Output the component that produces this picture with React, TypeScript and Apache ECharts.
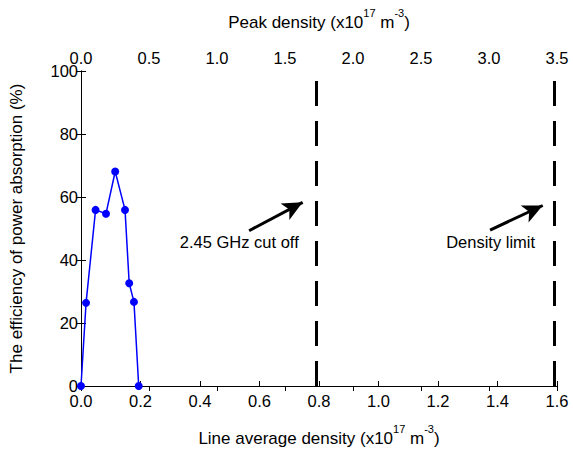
import React, { useEffect, useRef } from "react";
import * as echarts from "echarts";

const lineDensity = [0.0, 0.017, 0.049, 0.084, 0.115, 0.148, 0.162, 0.178, 0.194];
const efficiency = [0, 26.4, 55.9, 54.7, 68.1, 55.9, 32.6, 26.7, 0];
const bottomTicks = [0, 1.6, 0.2];
const topTicks = [0, 3.5, 0.5];
const yTicks = [0, 100, 20];
const cutoffLine = 0.792;
const densityLimitLine = 1.59;
const arrowCutoff = [[0.565, 49.3], [0.745, 58.3]];
const arrowLimit = [[1.375, 49.5], [1.552, 57.3]];
const labelCutoff = { text: "2.45 GHz cut off", at: [0.532, 45.8] };
const labelLimit = { text: "Density limit", at: [1.377, 45.8] };

const FONT = "'Liberation Sans', Arial, sans-serif";

const rich = {
  a: { fontSize: 17, fontFamily: FONT, color: "#000", lineHeight: 24, verticalAlign: "bottom" },
  s: { fontSize: 11, fontFamily: FONT, color: "#000", lineHeight: 24, verticalAlign: "top" },
};

export default function App() {
  const ref = useRef<HTMLDivElement>(null);
  useEffect(() => {
    const chart = echarts.init(ref.current!, null, { renderer: "svg" });
    const tickStyle = { show: true, inside: true, length: 5, lineStyle: { color: "#000", width: 1 } };
    const axLine = { show: true, lineStyle: { color: "#000", width: 1 } };
    const lbl = { fontSize: 16.5, fontFamily: FONT, color: "#000" };
    chart.setOption({
      animation: false,
      backgroundColor: "#fff",
      grid: { left: 81, right: 16, top: 71, bottom: 64 },
      xAxis: [
        {
          type: "value",
          position: "bottom",
          min: bottomTicks[0],
          max: bottomTicks[1],
          interval: bottomTicks[2],
          axisLine: axLine,
          axisTick: tickStyle,
          splitLine: { show: false },
          axisLabel: { ...lbl, margin: 6, formatter: (v: number) => v.toFixed(1) },
          name: "{a|Line average density (x10}{s|17}{a| m}{s|-3}{a|)}",
          nameLocation: "middle",
          nameGap: 37,
          nameTextStyle: { rich },
        },
        {
          type: "value",
          position: "top",
          min: topTicks[0],
          max: topTicks[1],
          interval: topTicks[2],
          axisLine: axLine,
          axisTick: tickStyle,
          splitLine: { show: false },
          axisLabel: { ...lbl, margin: 5, formatter: (v: number) => v.toFixed(1) },
          name: "{a|Peak density (x10}{s|17}{a| m}{s|-3}{a|)}",
          nameLocation: "middle",
          nameGap: 40,
          nameTextStyle: { rich },
        },
      ],
      yAxis: [
        {
          type: "value",
          position: "left",
          min: yTicks[0],
          max: yTicks[1],
          interval: yTicks[2],
          axisLine: axLine,
          axisTick: tickStyle,
          splitLine: { show: false },
          axisLabel: { ...lbl, margin: 3 },
          name: "The efficiency of power absorption (%)",
          nameLocation: "middle",
          nameGap: 56,
          nameTextStyle: { fontSize: 17, fontFamily: FONT, color: "#000" },
        },
        {
          type: "value",
          position: "right",
          min: yTicks[0],
          max: yTicks[1],
          interval: yTicks[2],
          axisLine: axLine,
          axisTick: tickStyle,
          splitLine: { show: false },
          axisLabel: { show: false },
        },
      ],
      series: [
        {
          type: "line",
          xAxisIndex: 0,
          yAxisIndex: 0,
          data: lineDensity.map((x, i) => [x, efficiency[i]]),
          symbol: "circle",
          symbolSize: 8,
          color: "#0000ff",
          lineStyle: { color: "#0000ff", width: 1.5 },
          itemStyle: { color: "#0000ff" },
          z: 5,
        },
        {
          type: "line",
          xAxisIndex: 0,
          yAxisIndex: 0,
          data: [],
          markLine: {
            silent: true,
            symbol: ["none", "none"],
            label: { show: false },
            lineStyle: { color: "#000", width: 3, type: [25, 15] },
            data: [{ xAxis: cutoffLine }, { xAxis: densityLimitLine }],
          },
        },
        {
          type: "line",
          xAxisIndex: 0,
          yAxisIndex: 0,
          data: [],
          markLine: {
            silent: true,
            symbol: ["none", "arrow"],
            symbolSize: [14, 20],
            label: { show: false },
            lineStyle: { color: "#000", width: 3, type: "solid" },
            data: [arrowCutoff, arrowLimit].map((a) => [{ coord: a[0] }, { coord: a[1] }]),
          },
          markPoint: {
            silent: true,
            symbol: "circle",
            symbolSize: 0,
            label: { show: true, position: "inside", fontSize: 16.5, fontFamily: FONT, color: "#000" },
            data: [labelCutoff, labelLimit].map((l) => ({
              coord: l.at,
              value: l.text,
              label: { formatter: l.text },
            })),
          },
        },
      ],
    });
    return () => chart.dispose();
  }, []);
  return <div ref={ref} style={{ width: 573, height: 452, position: "absolute", left: 0, top: 0 }} />;
}
